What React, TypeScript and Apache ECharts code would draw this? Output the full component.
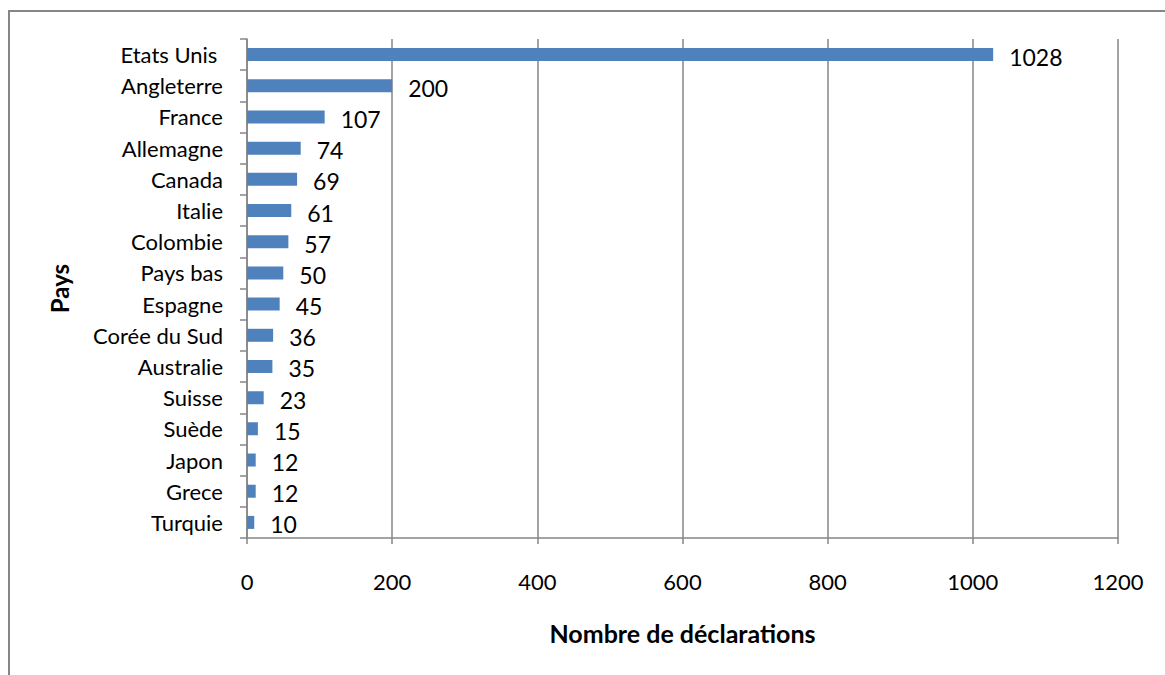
import React, { useEffect, useRef } from "react";
import * as echarts from "echarts";

const categories = [
  "Etats Unis ",
  "Angleterre",
  "France",
  "Allemagne",
  "Canada",
  "Italie",
  "Colombie",
  "Pays bas",
  "Espagne",
  "Corée du Sud",
  "Australie",
  "Suisse",
  "Suède",
  "Japon",
  "Grece",
  "Turquie",
];
const values = [1028, 200, 107, 74, 69, 61, 57, 50, 45, 36, 35, 23, 15, 12, 12, 10];
const xTicks = [0, 200, 400, 600, 800, 1000, 1200];

const FONT = "Lato, 'Open Sans', sans-serif";
const GRAY = "#868686";

export default function App() {
  const ref = useRef<HTMLDivElement>(null);
  useEffect(() => {
    if (!ref.current) return;
    const chart = echarts.init(ref.current, null, { renderer: "svg" });
    chart.setOption({
      animation: false,
      backgroundColor: "#ffffff",
      graphic: [
        {
          type: "rect",
          shape: { x: 9, y: 11, width: 1170, height: 680 },
          style: { fill: "none", stroke: GRAY, lineWidth: 2 },
          silent: true,
        },
      ],
      grid: { left: 247, right: 47, top: 39, bottom: 137, containLabel: false },
      xAxis: {
        type: "value",
        min: xTicks[0],
        max: xTicks[xTicks.length - 1],
        interval: 200,
        name: "Nombre de déclarations",
        nameLocation: "middle",
        nameGap: 82,
        nameTextStyle: { fontFamily: FONT, fontWeight: "bold", fontSize: 25, color: "#000" },
        axisLine: { show: true, lineStyle: { color: GRAY, width: 1.5 } },
        axisTick: { show: true, length: 6, lineStyle: { color: GRAY, width: 1.5 } },
        axisLabel: {
          margin: 32,
          fontFamily: FONT,
          fontSize: 22,
          color: "#000",
          formatter: (v: number) => String(v),
        },
        splitLine: { show: true, lineStyle: { color: GRAY, width: 1.5 } },
      },
      yAxis: {
        type: "category",
        data: categories,
        inverse: true,
        name: "Pays",
        nameLocation: "middle",
        nameRotate: 90,
        nameGap: 176,
        nameTextStyle: { fontFamily: FONT, fontWeight: "bold", fontSize: 24, color: "#000" },
        axisLine: { show: true, lineStyle: { color: GRAY, width: 1.5 } },
        axisTick: { show: true, length: 7, inside: false, lineStyle: { color: GRAY, width: 1.5 } },
        axisLabel: { margin: 24, fontFamily: FONT, fontSize: 22, color: "#000" },
      },
      series: [
        {
          type: "bar",
          data: values,
          barWidth: 13,
          itemStyle: { color: "#4F81BD" },
          label: {
            show: true,
            position: "right",
            distance: 16,
            fontFamily: FONT,
            fontSize: 23,
            color: "#000",
            offset: [0, 2],
          },
        },
      ],
    });
    return () => chart.dispose();
  }, []);
  return (
    <div
      ref={ref}
      style={{ position: "fixed", left: 0, top: 0, width: 1165, height: 675 }}
    />
  );
}
